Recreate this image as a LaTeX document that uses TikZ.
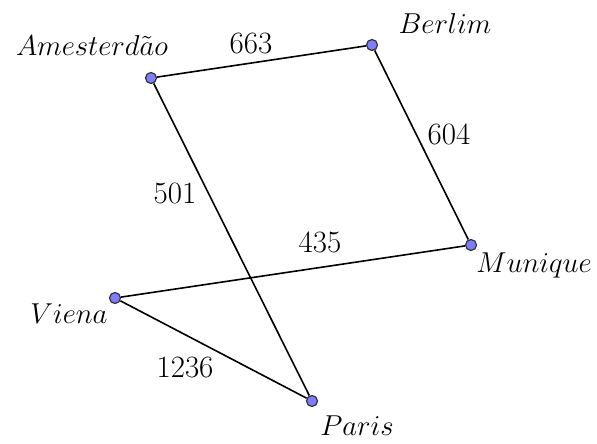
\documentclass[tikz,border=0pt]{standalone}
\begin{document}
\begin{tikzpicture}[x=0.5pt,y=-0.5pt,
  pt/.style={circle,draw=black!80,fill={rgb,255:red,125;green,125;blue,255},inner sep=0pt,minimum size=5.5pt,line width=0.6pt},
  edge/.style={line width=0.8pt},
  lbl/.style={font=\fontsize{15.5}{18}\selectfont,inner sep=0pt},
  num/.style={font=\fontsize{15.5}{18}\selectfont,inner sep=0pt}]
\useasboundingbox (0,0) rectangle (597,443);
\node[pt] (A) at (151,78) {};
\node[pt] (B) at (372,45) {};
\node[pt] (M) at (471,245) {};
\node[pt] (V) at (115,298) {};
\node[pt] (P) at (312,401) {};
\draw[edge] (A) -- (B);
\draw[edge] (B) -- (M);
\draw[edge] (A) -- (P);
\draw[edge] (V) -- (M);
\draw[edge] (V) -- (P);
\node[lbl] (nA) at (92,46) {$Amesterd\tilde{a}o$};
\node[lbl] (nB) at (445,24) {$Berlim$};
\node[lbl] (nM) at (534,265) {$Munique$};
\node[lbl] (nV) at (69,314) {$Viena$};
\node[lbl] (nP) at (357,426) {$Paris$};
\node[num] (l663) at (251,44) {663};
\node[num] (l604) at (449,134) {604};
\node[num] (l501) at (175,194) {501};
\node[num] (l435) at (320,242) {435};
\node[num] (l1236) at (185,367) {1236};
\end{tikzpicture}
\end{document}
